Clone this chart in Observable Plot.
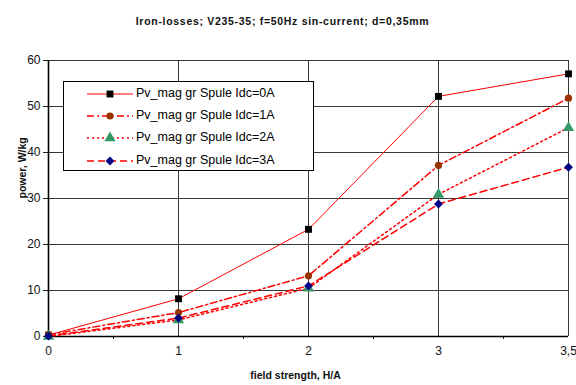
<!DOCTYPE html>
<html>
<head>
<meta charset="utf-8">
<script src="https://cdn.jsdelivr.net/npm/d3@7"></script>
<script src="https://cdn.jsdelivr.net/npm/@observablehq/plot@0.6"></script>
<style>
  html, body { margin: 0; padding: 0; background: #fff; }
  #wrap { position: relative; width: 576px; height: 385px; font-family: "Liberation Sans", Arial, sans-serif; }
  #legend { position: absolute; left: 63px; top: 81px; width: 249px; height: 88px; border: 1px solid #000; background: #fff; }
  .row { position: absolute; left: 0; height: 20px; width: 100%; }
  .row svg { position: absolute; left: 23px; top: 0; }
  .row span { position: absolute; left: 72px; top: 2px; font-size: 12.5px; color: #000; white-space: nowrap; }
</style>
</head>
<body>
<div id="wrap"></div>
<script>
// ---- data ----
const xLabels = ["0", "1", "2", "3", "3,5"];
const seriesNames = [
  "Pv_mag gr Spule Idc=0A",
  "Pv_mag gr Spule Idc=1A",
  "Pv_mag gr Spule Idc=2A",
  "Pv_mag gr Spule Idc=3A"
];
const idc0 = [0.3, 8.2, 23.3, 52.2, 57.1];
const idc1 = [0.4, 5.2, 13.2, 37.2, 51.8];
const idc2 = [0.0, 3.6, 10.5, 30.9, 45.4];
const idc3 = [0.1, 4.0, 11.0, 28.8, 36.8];
const yTicks = [0, 10, 20, 30, 40, 50, 60];
const titleText = "Iron-losses; V235-35; f=50Hz sin-current; d=0,35mm";
const yLabel = "power, W/kg";
const xLabel = "field strength, H/A";

// ---- styles ----
const styles = [
  {dash: null, width: 1, symbol: "square", r: 3.9, fill: "#000000"},
  {dash: "7,3,2,3", width: 1.5, symbol: "circle", r: 3.6, fill: "#993300"},
  {dash: "2,3", width: 1.5, symbol: "triangle", r: 4.2, fill: "#339966"},
  {dash: "7,4", width: 1.5, symbol: "diamond2", r: 4.0, fill: "#000080"}
];
const lineColor = "#ff0000";

const allSeries = [idc0, idc1, idc2, idc3];
const xIdx = xLabels.map((_, i) => i);
const data = allSeries.map((vals, k) => vals.map((v, i) => ({i, v, k, name: seriesNames[k]})));

const seriesMarks = [];
data.forEach((rows, k) => {
  const s = styles[k];
  seriesMarks.push(Plot.line(rows, {x: "i", y: "v", stroke: lineColor, strokeWidth: s.width, strokeDasharray: s.dash}));
  seriesMarks.push(Plot.dot(rows, {x: "i", y: "v", symbol: () => s.symbol, r: s.r, fill: s.fill, stroke: "none"}));
});

const chart = Plot.plot({
  width: 576,
  height: 385,
  marginTop: 60,
  marginBottom: 49,
  marginLeft: 48,
  marginRight: 8,
  style: {fontFamily: "'Liberation Sans', Arial, sans-serif", fontSize: "12px", background: "#fff", color: "#111"},
  x: {type: "linear", domain: [0, xLabels.length - 1]},
  y: {domain: [0, 60]},
  symbol: {type: "identity"},
  marks: [
    Plot.gridY(yTicks, {stroke: "#222", strokeOpacity: 0.9}),
    Plot.gridX(xIdx, {stroke: "#222", strokeOpacity: 0.9}),
    Plot.axisY({ticks: yTicks, tickSize: 5, tickPadding: 3, label: null, stroke: "#222"}),
    Plot.axisX({ticks: xIdx, tickFormat: i => xLabels[i], tickSize: 0, tickPadding: 10, label: null}),
    Plot.axisX({ticks: xIdx.slice(1).map(i => i - 0.5), tickSize: 3, tickFormat: () => "", label: null, stroke: "#222"}),
    Plot.ruleX([0], {stroke: "#000", strokeWidth: 1.6}),
    Plot.ruleY([0], {stroke: "#000", strokeWidth: 1.6}),
    ...seriesMarks,
    Plot.text([titleText], {frameAnchor: "top", dy: -43, dx: -26, fontWeight: "bold", fontSize: 10.5, fill: "#111"}),
    Plot.text([yLabel], {frameAnchor: "left", rotate: -90, dx: -26, dy: 0, fontWeight: "bold", fontSize: 10.5, fill: "#111"}),
    Plot.text([xLabel], {frameAnchor: "bottom", dy: 42, dx: -13, fontWeight: "bold", fontSize: 10.5, fill: "#111"})
  ]
});

// widen the title's letter spacing like the reference
d3.select(chart).selectAll("text").filter(function () { return this.textContent === titleText; })
  .style("letter-spacing", "0.7px");

const wrap = document.getElementById("wrap");
wrap.appendChild(chart);

// ---- legend ----
const legend = document.createElement("div");
legend.id = "legend";
seriesNames.forEach((name, k) => {
  const s = styles[k];
  const row = document.createElement("div");
  row.className = "row";
  row.style.top = (2 + k * 22.2) + "px";
  const svg = d3.create("svg").attr("width", 46).attr("height", 20);
  svg.append("line").attr("x1", 0).attr("x2", 46).attr("y1", 10).attr("y2", 10)
    .attr("stroke", lineColor).attr("stroke-width", s.width)
    .attr("stroke-dasharray", s.dash);
  const sym = {square: d3.symbolSquare, circle: d3.symbolCircle, triangle: d3.symbolTriangle, diamond2: d3.symbolDiamond2}[s.symbol];
  svg.append("path").attr("d", d3.symbol(sym, Math.PI * s.r * s.r)())
    .attr("transform", "translate(23,10)").attr("fill", s.fill);
  row.appendChild(svg.node());
  const span = document.createElement("span");
  span.textContent = name;
  row.appendChild(span);
  legend.appendChild(row);
});
wrap.appendChild(legend);
</script>
</body>
</html>
